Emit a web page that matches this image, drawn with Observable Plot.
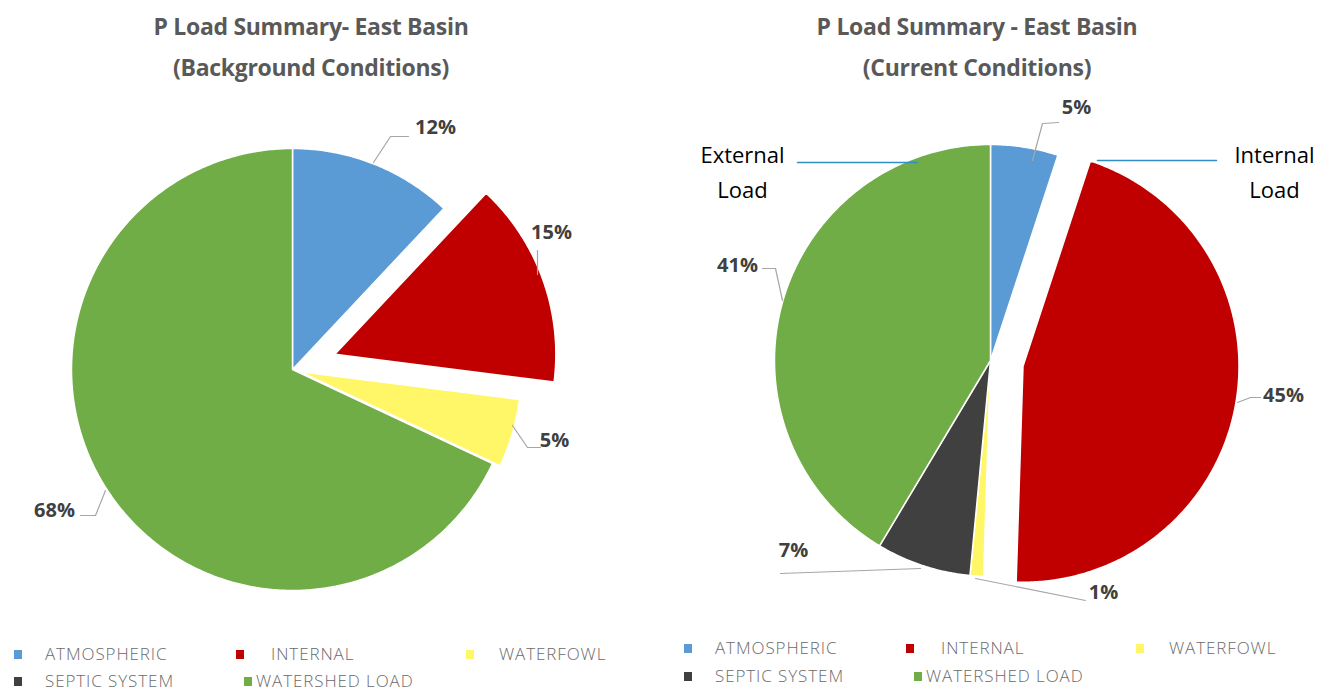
<!DOCTYPE html>
<html>
<head>
<meta charset="utf-8">
<script src="https://cdn.jsdelivr.net/npm/d3@7"></script>
<script src="https://cdn.jsdelivr.net/npm/@observablehq/plot@0.6"></script>
<style>
  body { margin: 0; background: #fff; font-family: "Open Sans", sans-serif; }
  #wrap { display: flex; width: 1323px; height: 692px; overflow: hidden; }
  .panel { position: relative; height: 692px; }
  .title { height: 90px; box-sizing: border-box; padding-top: 6px; font-weight: bold; font-size: 23px;
           line-height: 41px; color: #595959; text-align: center; letter-spacing: -0.3px; }
  .legend { position: relative; height: 62px; }
  .item { position: absolute; font-size: 17px; color: #6b6b6b; font-weight: 300; white-space: nowrap;
          line-height: 18px; letter-spacing: 0.9px; }
  .sw { position: absolute; width: 8px; height: 9px; top: 5px; }
  svg { display: block; }
</style>
</head>
<body>
<div id="wrap"></div>
<script>
// ---- data ----
const categories = ["ATMOSPHERIC", "INTERNAL", "WATERFOWL", "SEPTIC SYSTEM", "WATERSHED LOAD"];
const colors = ["#5B9BD5", "#C00000", "#FFF767", "#404040", "#70AD47"];
const backgroundValues = [12, 15, 5, 0, 68];
const currentValues = [5, 45, 1, 7, 41];
const titleBackground = ["P Load Summary- East Basin", "(Background Conditions)"];
const titleCurrent = ["P Load Summary - East Basin", "(Current Conditions)"];
const annotationLeft = ["External", "Load"];
const annotationRight = ["Internal", "Load"];

// ---- layout (pixels relative to pie centre) ----
const leftLayout = {
  width: 661, height: 540, cx: 292, cy: 279, R: 221, explode: [0, 45, 8, 0, 0], titleWidth: 622,
  legendTop: 11, legendGap: 27, legendShift: 0,
  labels: {
    0: {at: [143, -242], leader: [[81, -207], [98, -233], [116, -233]]},
    1: {at: [259, -137], leader: [[245, -119], [245, -95]]},
    2: {at: [262, 71], leader: [[220, 56], [235, 78], [248, 78]]},
    4: {at: [-238, 141], leader: [[-212, 146], [-197, 146], [-187, 121]]}
  }
};
const rightLayout = {
  width: 662, height: 540, cx: 329, cy: 270, R: 216, explode: [0, 33, 0, 0, 0], titleWidth: 632,
  legendTop: 5, legendGap: 28, legendShift: 9,
  labels: {
    0: {at: [86, -253], leader: [[42, -200], [52, -237], [68, -238]]},
    1: {at: [293, 35], leader: [[247, 42], [260, 37], [270, 37]]},
    2: {at: [113, 232], leader: [[-15, 218], [95, 240]]},
    3: {at: [-197, 190], leader: [[-70, 208], [-210, 213]]},
    4: {at: [-253, -95], leader: [[-228, -92], [-215, -92], [-208, -60]]}
  },
  notes: [
    {text: annotationLeft, at: [-248, -205], line: [[-193, -198], [-73, -198]]},
    {text: annotationRight, at: [284, -205], line: [[107, -200], [226, -200]]}
  ]
};

function slicePoints(values, R, explode) {
  const arcs = d3.pie().sort(null).value(d => d)(values);
  const pts = [];
  arcs.forEach((a, i) => {
    if (a.value === 0) return;
    const cat = categories[i];
    const mid = (a.startAngle + a.endAngle) / 2;
    const e = explode[i] || 0;
    const ox = e * Math.sin(mid), oy = -e * Math.cos(mid);
    const n = Math.max(2, Math.ceil((a.endAngle - a.startAngle) / 0.01));
    pts.push({cat, x: ox, y: oy});
    for (let k = 0; k <= n; k++) {
      const t = a.startAngle + (a.endAngle - a.startAngle) * k / n;
      pts.push({cat, x: ox + R * Math.sin(t), y: oy - R * Math.cos(t)});
    }
    pts.push({cat, x: ox, y: oy});
  });
  return pts;
}

function panel(values, titleLines, L) {
  const div = document.createElement("div");
  div.className = "panel";
  div.style.width = L.width + "px";

  const t = document.createElement("div");
  t.className = "title";
  t.style.width = L.titleWidth + "px";
  t.innerHTML = titleLines.map(s => `<div>${s}</div>`).join("");
  div.appendChild(t);

  const slices = slicePoints(values, L.R, L.explode);
  const labelData = [], leaderData = [];
  values.forEach((v, i) => {
    const lay = L.labels[i];
    if (!lay || v === 0) return;
    labelData.push({x: lay.at[0], y: lay.at[1], text: `${v}%`});
    lay.leader.forEach(p => leaderData.push({id: i, x: p[0], y: p[1]}));
  });
  const noteText = [], noteLines = [];
  (L.notes || []).forEach((n, j) => {
    n.text.forEach((s, k) => noteText.push({x: n.at[0], y: n.at[1] + k * 35, text: s}));
    n.line.forEach(p => noteLines.push({id: j, x: p[0], y: p[1]}));
  });

  const chart = Plot.plot({
    width: L.width, height: L.height,
    margin: 0,
    x: {domain: [-L.cx, L.width - L.cx], axis: null},
    y: {domain: [-L.cy, L.height - L.cy], reverse: true, axis: null},
    color: {domain: categories, range: colors},
    marks: [
      Plot.line(slices, {x: "x", y: "y", z: "cat", fill: "cat", stroke: "white", strokeWidth: 1.5, curve: "linear"}),
      Plot.line(leaderData, {x: "x", y: "y", z: "id", stroke: "#a6a6a6", strokeWidth: 1.2}),
      Plot.text(labelData, {x: "x", y: "y", text: "text", fill: "#404040", fontSize: 20, fontWeight: "bold",
                            fontFamily: "Open Sans", letterSpacing: -0.5}),
      Plot.line(noteLines, {x: "x", y: "y", z: "id", stroke: "#2F8FC6", strokeWidth: 1.5}),
      Plot.text(noteText, {x: "x", y: "y", text: "text", fill: "#000", fontSize: 22, fontFamily: "Open Sans"})
    ]
  });
  div.appendChild(chart);

  const leg = document.createElement("div");
  leg.className = "legend";
  const pos = [[18, 31], [240, 35], [470, 33], [18, 31], [248, 12]];
  categories.forEach((c, i) => {
    const it = document.createElement("div");
    it.className = "item";
    const row = i < 3 ? 0 : 1;
    it.style.left = (pos[i][0] + L.legendShift - 4) + "px";
    it.style.top = (L.legendTop + row * L.legendGap + 4) + "px";
    it.innerHTML = `<span class="sw" style="left:0;background:${colors[i]}"></span><span style="margin-left:${pos[i][1]}px">${c}</span>`;
    leg.appendChild(it);
  });
  div.appendChild(leg);
  return div;
}

const wrap = document.getElementById("wrap");
wrap.appendChild(panel(backgroundValues, titleBackground, leftLayout));
wrap.appendChild(panel(currentValues, titleCurrent, rightLayout));
</script>
</body>
</html>
